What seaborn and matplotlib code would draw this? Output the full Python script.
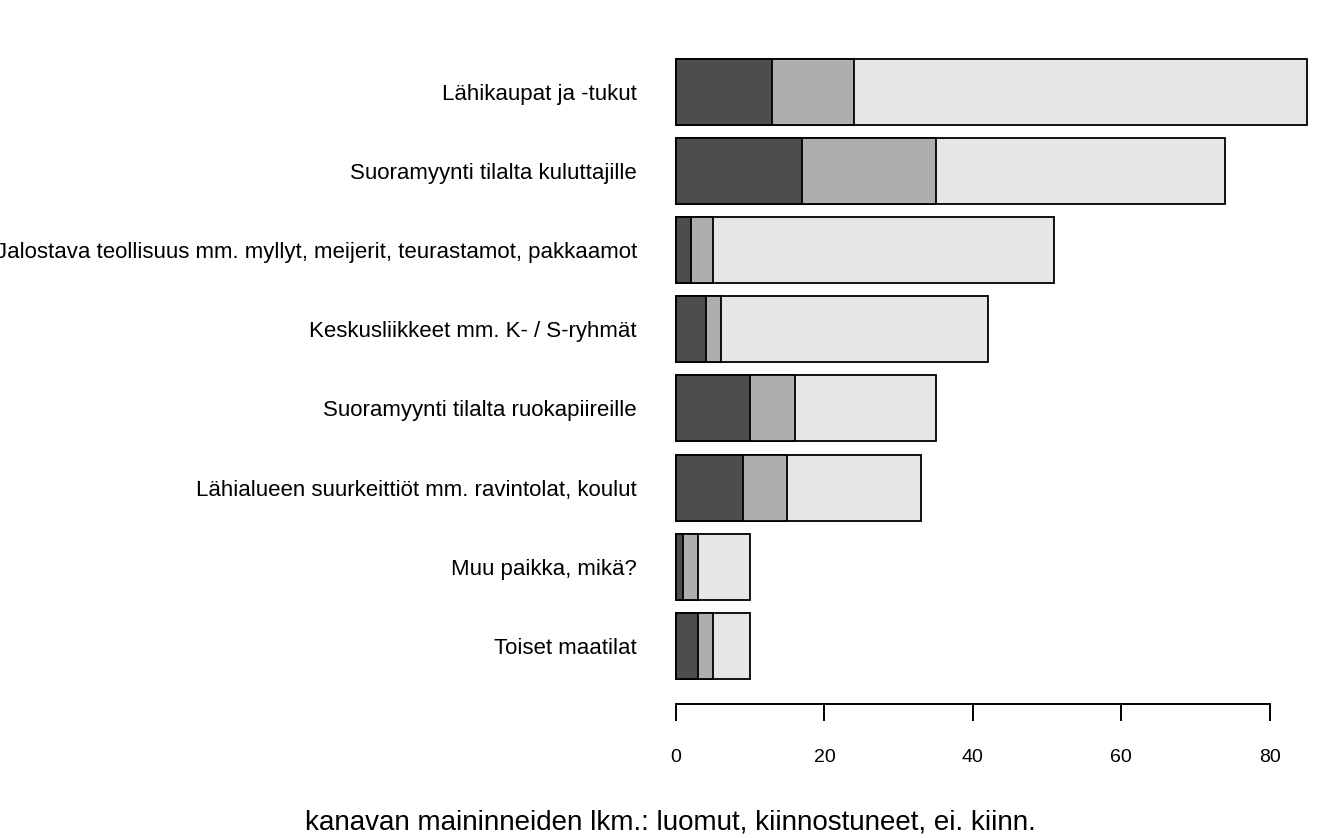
import matplotlib
matplotlib.use("Agg")
import matplotlib.pyplot as plt
import seaborn as sns
import pandas as pd
import numpy as np

categories = [
    "Lähikaupat ja -tukut",
    "Suoramyynti tilalta kuluttajille",
    "Jalostava teollisuus mm. myllyt, meijerit, teurastamot, pakkaamot",
    "Keskusliikkeet mm. K- / S-ryhmät",
    "Suoramyynti tilalta ruokapiireille",
    "Lähialueen suurkeittiöt mm. ravintolat, koulut",
    "Muu paikka, mikä?",
    "Toiset maatilat",
]
luomut = [13, 17, 2, 4, 10, 9, 1, 3]
kiinnostuneet = [11, 18, 3, 2, 6, 6, 2, 2]
ei_kiinn = [61, 39, 46, 36, 19, 18, 7, 5]
xticks = [0, 20, 40, 60, 80]
xlabel = "kanavan maininneiden lkm.: luomut, kiinnostuneet, ei. kiinn."

sns.set_style("white")
plt.rcParams["font.family"] = ["Liberation Sans", "DejaVu Sans"]
plt.rcParams["text.color"] = "black"
plt.rcParams["xtick.color"] = "black"
plt.rcParams["ytick.color"] = "black"

df = pd.DataFrame({"cat": categories, "luomut": luomut,
                   "kiinn": kiinnostuneet, "ei": ei_kiinn})
df["c1"] = df["luomut"]
df["c2"] = df["luomut"] + df["kiinn"]
df["c3"] = df["c2"] + df["ei"]

W, H = 1341, 838
fig = plt.figure(figsize=(W / 100, H / 100), dpi=100)
left_px, right_px = 650.8, 1332.0
top_px, bot_px = 34.25, 703.8
ax = fig.add_axes([left_px / W, 1 - bot_px / H, (right_px - left_px) / W, (bot_px - top_px) / H])

bw = 1 / 1.2
for col, colr in [("c3", "#E6E6E6"), ("c2", "#AEAEAE"), ("c1", "#4D4D4D")]:
    sns.barplot(data=df, x=col, y="cat", orient="h", order=categories,
                color=colr, saturation=1, width=bw, edgecolor="black",
                linewidth=1.3, ax=ax)

ax.set_xlim(-3.4, 88.4)
ax.set_ylim(7.73, -0.723)
ax.set_xticks(xticks)
ax.set_xticklabels([str(t) for t in xticks], fontsize=14)
ax.tick_params(axis="x", bottom=True, length=12.5, width=1.4, pad=20,
               colors="black", labelcolor="black", direction="out")
ax.tick_params(axis="y", left=False, length=0, pad=10, labelsize=16, labelcolor="black")
for s in ["top", "right", "left"]:
    ax.spines[s].set_visible(False)
ax.spines["bottom"].set_bounds(0, 80)
ax.spines["bottom"].set_linewidth(1.4)
ax.spines["bottom"].set_color("black")
ax.set_xlabel("")
ax.set_ylabel("")

fig.text(670 / W, 1 - 822 / H, xlabel, ha="center", va="center", fontsize=20, color="black")

fig.savefig("out.png", dpi=100)
